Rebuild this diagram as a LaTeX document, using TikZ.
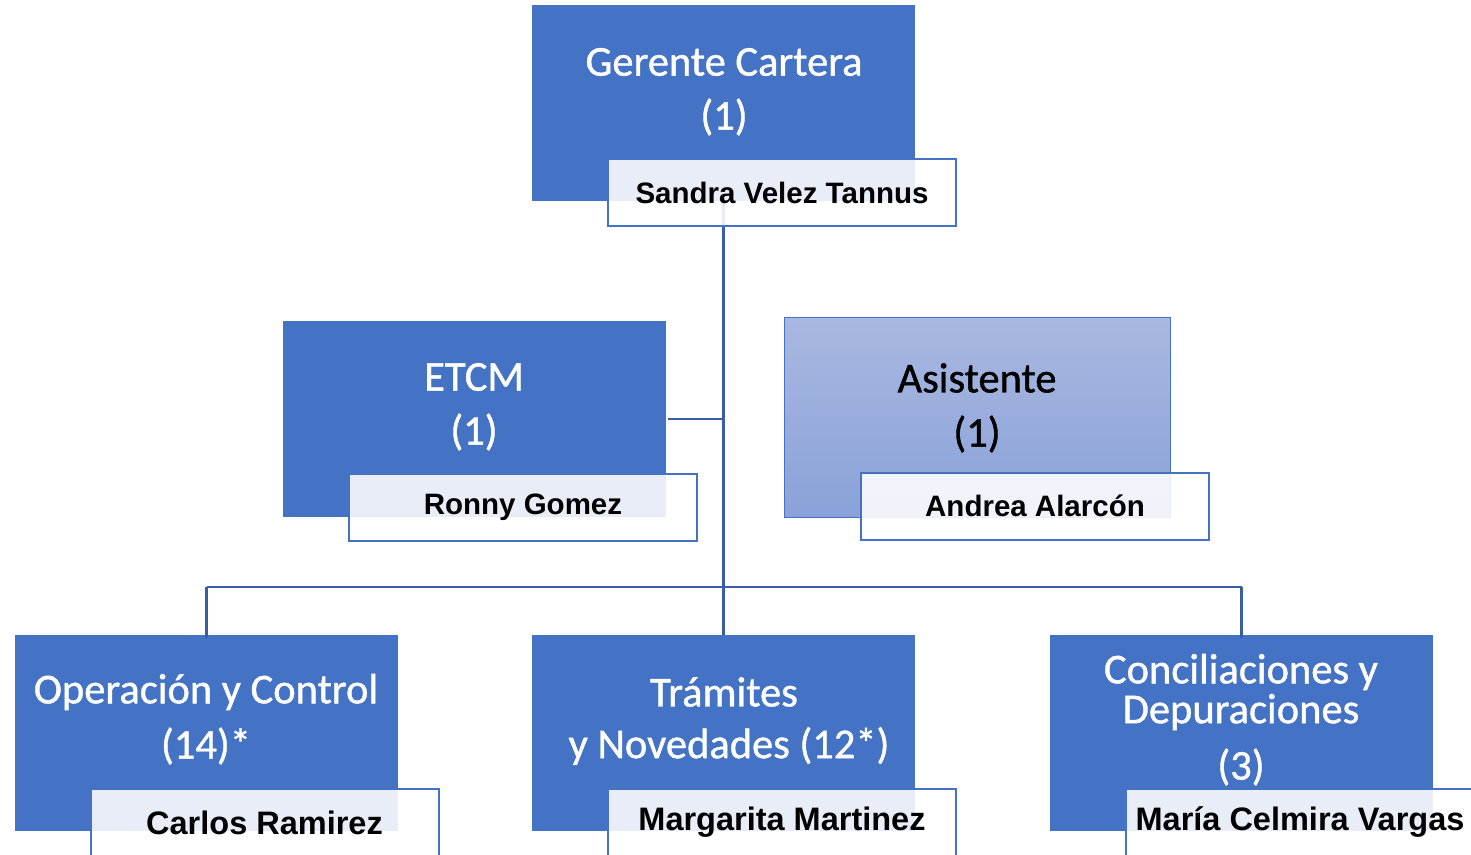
\documentclass[tikz,border=0pt]{standalone}
\usepackage{fontspec}
\setmainfont{Carlito}
\newfontfamily\titlefont{Carlito}[BoldFont={Carlito}, BoldFeatures={FakeBold=1}]
\newfontfamily\namefont{Liberation Sans}
\usetikzlibrary{positioning}
\definecolor{boxblue}{HTML}{4472C4}
\definecolor{linkblue}{HTML}{3A5DA8}
\definecolor{asitop}{HTML}{A9B8E1}
\definecolor{asibot}{HTML}{8AA2D8}
\tikzset{
  unit/.style={draw=none, fill=boxblue, minimum width=383pt, minimum height=196pt, inner sep=0pt},
  asist/.style={draw=boxblue, line width=1pt, top color=asitop, bottom color=asibot, minimum width=386pt, minimum height=200pt, inner sep=0pt},
  namebox/.style={draw=boxblue, line width=2pt, fill=white, fill opacity=0.88, text opacity=1, minimum width=348pt, minimum height=67pt, inner sep=0pt, font=\namefont\bfseries\fontsize{29.5}{34}\selectfont, text=black},
  bignamebox/.style={namebox, font=\namefont\bfseries\fontsize{32.5}{36}\selectfont},
  title/.style={text=white, font=\titlefont\bfseries\fontsize{42.5}{50}\selectfont, align=center, inner sep=0pt},
  link/.style={draw=linkblue, line width=2.5pt}
}
\begin{document}
\begin{tikzpicture}[x=1pt,y=-1pt]
\useasboundingbox (0,0) rectangle (1471,854);
\clip (0,0) rectangle (1471,854);
% boxes
\node[unit] (ger) at (723.5,103) {};
\node[unit] (etcm) at (474,419) {};
\node[asist] (asi) at (977,417) {};
\node[unit] (ope) at (206.5,733) {};
\node[unit] (tra) at (723.5,733) {};
\node[unit] (con) at (1241.5,733) {};
% connectors
\coordinate (j1) at (723.5,419);
\coordinate (j2) at (723.5,587);
\coordinate (l2) at (206.5,587);
\coordinate (r2) at (1241.5,587);
\draw[link] (ger.south) -- (tra.north);
\draw[link] ([xshift=2pt]etcm.east) -- (j1);
\draw[link] (l2) -- (r2);
\draw[link] (l2) -- ([yshift=-3pt]ope.north);
\draw[link] (r2) -- ([yshift=-3pt]con.north);
% titles
\node[title] (tger1) at (724,62) {Gerente Cartera};
\node[title] (tger2) at (724,117) {(1)};
\node[title] (tetc1) at (474,377) {ETCM};
\node[title] (tetc2) at (474,432) {(1)};
\node[title,text=black] (tasi1) at (977,378) {Asistente};
\node[title,text=black] (tasi2) at (977,434) {(1)};
\node[title] (tope1) at (206,692) {Operación y Control};
\node[title] (tope2) at (206,746) {(14)*};
\node[title] (ttra1) at (724,692) {Trámites};
\node[title] (ttra2) at (729,746) {y Novedades (12*)};
\node[title] (tcon1) at (1241,672) {Conciliaciones y};
\node[title] (tcon2) at (1241,712) {Depuraciones};
\node[title] (tcon3) at (1241,767) {(3)};
% name boxes
\node[namebox] (nger) at (782,192.5) {Sandra Velez Tannus};
\node[namebox] (netc) at (523,507.5) {Ronny Gomez};
\node[namebox] (nasi) at (1035,506) {Andrea Alarcón};
\node[bignamebox] (nope) at (264.5,822.5) {Carlos Ramirez};
\node[bignamebox] (ntra) at (782,822.5) {Margarita Martinez};
\node[bignamebox] (ncon) at (1300,822) {María Celmira Vargas};
\end{tikzpicture}
\end{document}
